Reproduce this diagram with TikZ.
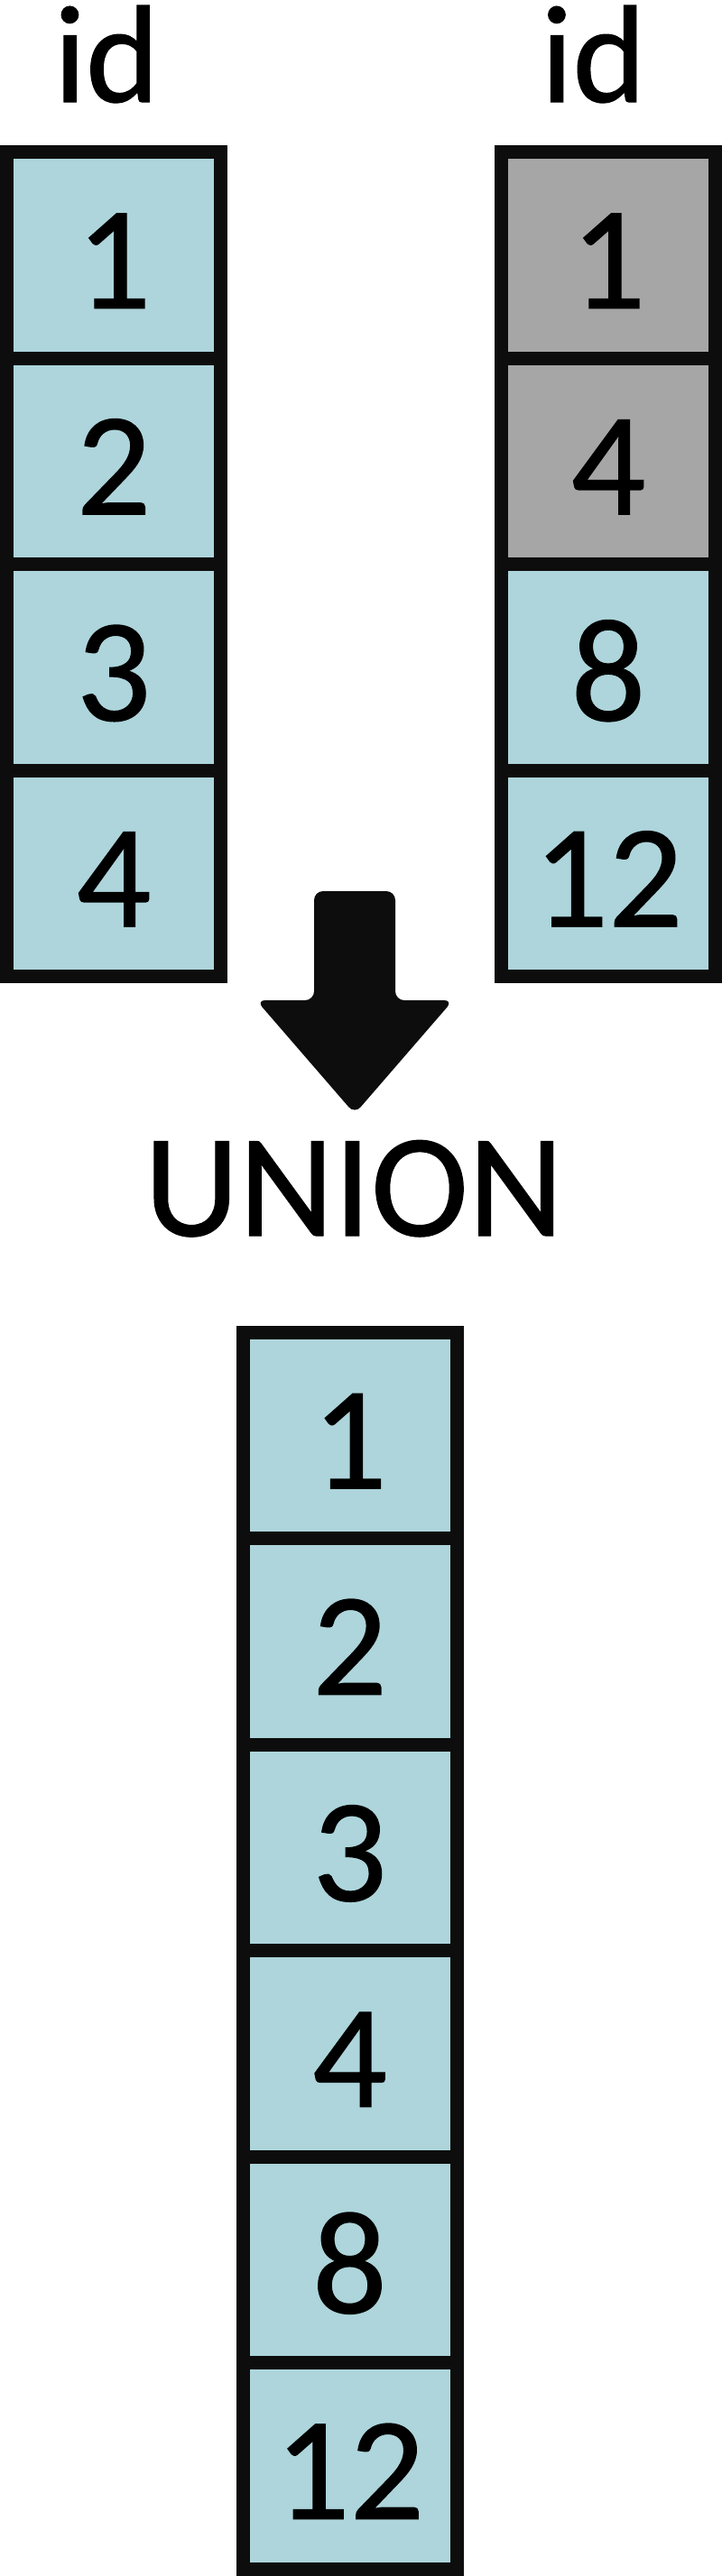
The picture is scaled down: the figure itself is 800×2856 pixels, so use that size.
\documentclass[tikz,border=0pt]{standalone}
\usepackage{fontspec}
\setmainfont{Carlito}
\newfontfamily\cellfont{Carlito}[FakeBold=0.8]
\usetikzlibrary{positioning}
\definecolor{cellblue}{RGB}{173,213,219}
\definecolor{cellgray}{RGB}{166,166,166}
\definecolor{edge}{RGB}{13,13,13}

\begin{document}
\begin{tikzpicture}[
    x=1pt, y=-1pt,
    node distance=228.5pt,
    cell/.style={rectangle, draw=edge, fill=cellblue, line width=15pt, minimum width=237pt, minimum height=228.5pt, inner sep=0pt, text height=118pt, text depth=0pt, font=\cellfont\fontsize{163}{180}\selectfont},
    greycell/.style={cell, fill=cellgray},
    title/.style={font=\cellfont\fontsize{163}{180}\selectfont, inner sep=0pt, anchor=base}
]
\useasboundingbox (0,0) rectangle (800,2856);

% Headers
\node[title, font=\cellfont\fontsize{154}{170}\selectfont] (idleft) at (118,113) {id};
\node[title, font=\cellfont\fontsize{154}{170}\selectfont] (idright) at (657.5,113) {id};

% Left table
\node[cell] (l1) at (126,282.75) {1};
\node[cell, below of=l1] (l2) {2};
\node[cell, below of=l2] (l3) {3};
\node[cell, below of=l3] (l4) {4};

% Right table
\node[greycell] (r1) at (674,282.75) {1};
\node[greycell, below of=r1] (r2) {4};
\node[cell, below of=r2] (r3) {8};
\node[cell, below of=r3] (r4) {12};

% Arrow
\fill[edge, rounded corners=10pt] (393,988) -- (438,988) -- (438,1109) -- (502,1109) -- (393,1235) -- (284,1109) -- (348,1109) -- (348,988) -- cycle;
\node[title] (union) at (392,1370) {UNION};

% Result
\node[cell] (u1) at (387.5,1591.25) {1};
\node[cell, below of=u1] (u2) {2};
\node[cell, below of=u2] (u3) {3};
\node[cell, below of=u3] (u4) {4};
\node[cell, below of=u4] (u5) {8};
\node[cell, below of=u5] (u6) {12};
\end{tikzpicture}
\end{document}
